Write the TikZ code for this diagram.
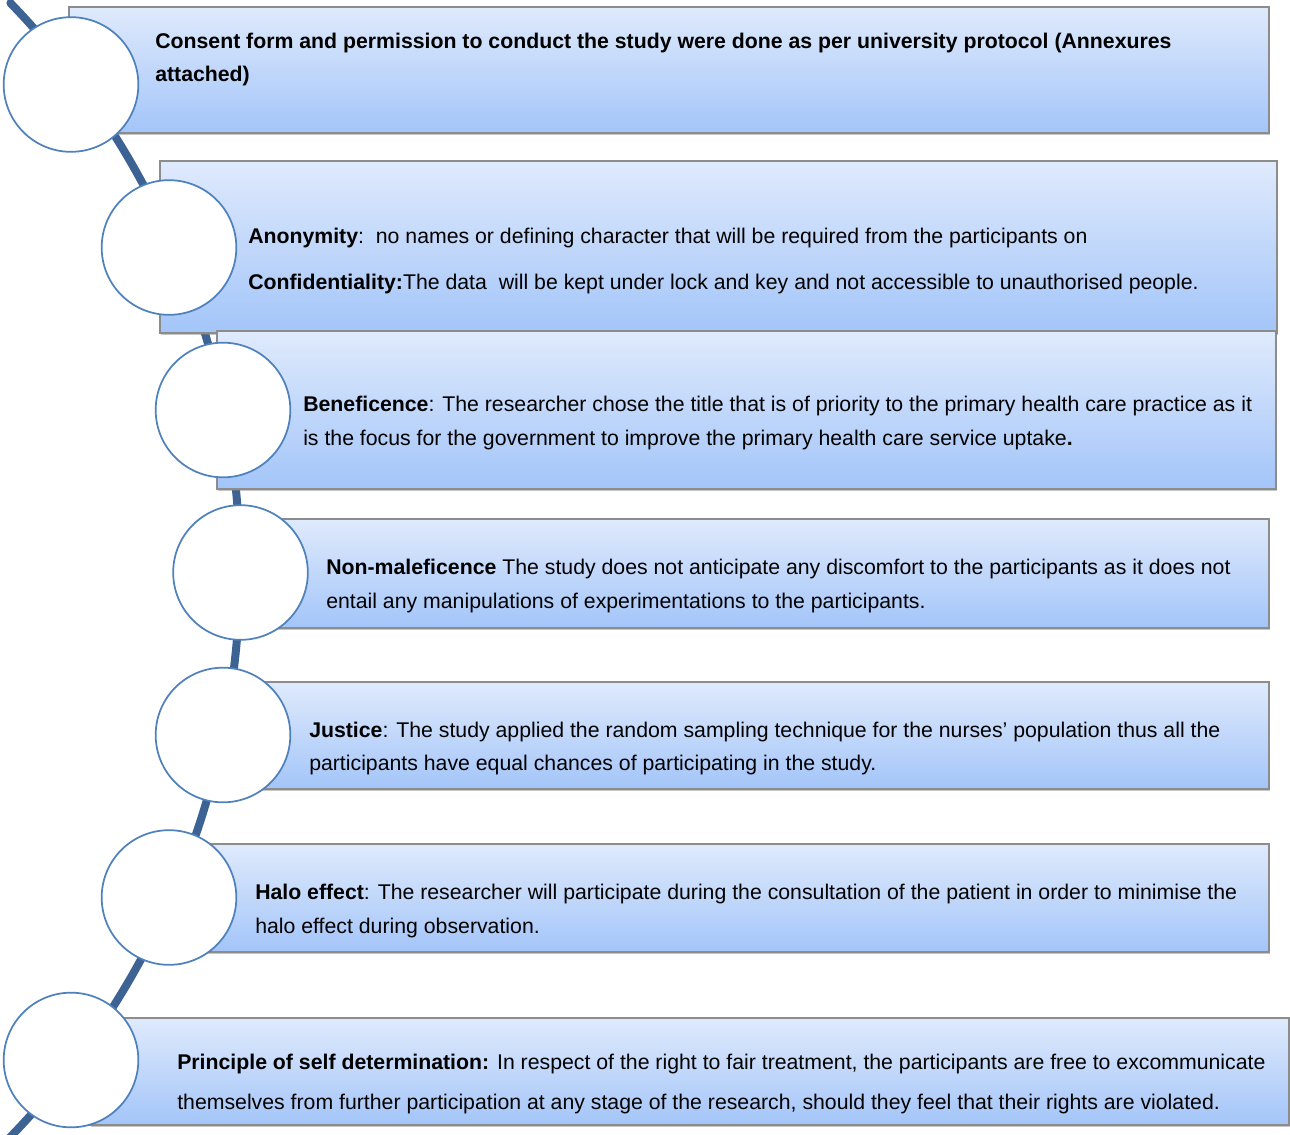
\documentclass[tikz,border=0pt]{standalone}
\usepackage{fontspec}
\setmainfont{Liberation Sans}
\usetikzlibrary{shadows,fit}
\definecolor{bleuLigne}{RGB}{61,99,148}
\definecolor{bleuRond}{RGB}{79,129,189}
\definecolor{bleuHaut}{RGB}{223,234,252}
\definecolor{bleuBas}{RGB}{163,197,249}
\definecolor{grisBord}{RGB}{140,140,140}
\begin{document}
\begin{tikzpicture}[x=0.75pt,y=-0.75pt]
    % Styles (MODIFIABLES)
    \tikzstyle{ligne}=[line width=6pt,color=bleuLigne,line cap=round]
    \tikzstyle{cadre}=[draw=grisBord,line width=0.9pt,top color=bleuHaut,bottom color=bleuBas,inner sep=0pt,drop shadow={shadow xshift=0.6pt,shadow yshift=-1.8pt,opacity=0.45}]
    \tikzstyle{rond}=[circle,draw=bleuRond,line width=1.3pt,fill=white,minimum size=101pt,inner sep=0pt]
    \tikzstyle{texte}=[anchor=west,align=left,inner sep=0pt,font=\fontsize{15.95}{24.8}\selectfont]
    % Cadre
    \useasboundingbox (0,0) rectangle (1290,1135);
    % Centres des ronds
    \coordinate (P1) at (71,84.5);
    \coordinate (P2) at (169,247.5);
    \coordinate (P3) at (223,410);
    \coordinate (P4) at (240.5,572.5);
    \coordinate (P5) at (223,735);
    \coordinate (P6) at (169,897.5);
    \coordinate (P7) at (71,1060);
    % Ligne courbe
    \coordinate (Haut) at (10.4,3);
    \draw[ligne] (Haut) arc[start angle=-44.08,end angle=44.4,radius=815];
    % Cadres
    \node[cadre,fit={(69,7) (1269,133)}] (C1) {};
    \node[cadre,fit={(160,161) (1277,333)}] (C2) {};
    \node[cadre,fit={(217,331) (1276,489)}] (C3) {};
    \node[cadre,fit={(234,519) (1269,628)}] (C4) {};
    \node[cadre,fit={(217,682) (1269,789)}] (C5) {};
    \node[cadre,fit={(163,844) (1269,952)}] (C6) {};
    \node[cadre,fit={(90,1018) (1289,1125)}] (C7) {};
    % Ronds
    \foreach \i in {1,...,7}
        \node[rond] (R\i) at (P\i) {};
    % Textes
    \node[texte] (T1) at (155,59.5) {\textbf{Consent form and permission to conduct the study were done as per university protocol (Annexures}\\\textbf{attached)}};
    \node[texte,font=\fontsize{15.95}{34.5}\selectfont] (T2) at (248,260.5) {\textbf{Anonymity}:\ \ no names or defining character that will be required from the participants on\\\textbf{Confidentiality:}The data\ \ will be kept under lock and key and not accessible to unauthorised people.};
    \node[texte] (T3) at (303,423) {\textbf{Beneficence}: The researcher chose the title that is of priority to the primary health care practice as it\\is the focus for the government to improve the primary health care service uptake\textbf{.}};
    \node[texte] (T4) at (326,586) {\textbf{Non-maleficence} The study does not anticipate any discomfort to the participants as it does not\\entail any manipulations of experimentations to the participants.};
    \node[texte] (T5) at (309,748.5) {\textbf{Justice}: The study applied the random sampling technique for the nurses’ population thus all the\\participants have equal chances of participating in the study.};
    \node[texte] (T6) at (255,911) {\textbf{Halo effect}: The researcher will participate during the consultation of the patient in order to minimise the\\halo effect during observation.};
    \node[texte,font=\fontsize{15.95}{30}\selectfont] (T7) at (177,1083.5) {\textbf{Principle of self determination:} In respect of the right to fair treatment, the participants are free to excommunicate\\themselves from further participation at any stage of the research, should they feel that their rights are violated.};
\end{tikzpicture}
\end{document}
